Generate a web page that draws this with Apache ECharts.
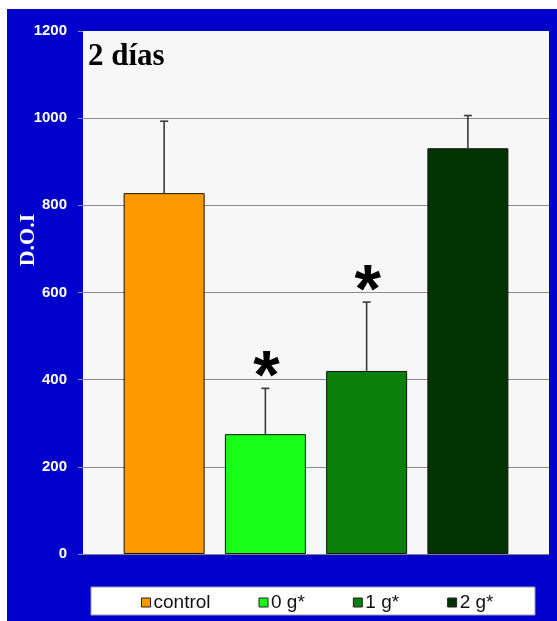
<!DOCTYPE html>
<html>
<head>
<meta charset="utf-8">
<script src="https://cdn.jsdelivr.net/npm/echarts@6/dist/echarts.min.js"></script>
<style>
  html, body { margin: 0; padding: 0; background: #ffffff; }
  #frame { position: absolute; left: 7px; top: 9px; width: 550px; height: 612px; background: #0000cc; }
  #chart { position: absolute; left: 0; top: 0; width: 557px; height: 621px; }
</style>
</head>
<body>
<div id="frame"></div>
<div id="chart"></div>
<script>
// Treatment groups, mean D.O.I and standard deviation
const categories = ['control', '0 g*', '1 g*', '2 g*'];
const means = [828, 275, 420, 931];
const errors = [165, 105, 158, 75];
const significant = [false, true, true, false];
const colors = ['#ff9900', '#16ff16', '#0a800a', '#003300'];
const yTicks = [0, 200, 400, 600, 800, 1000, 1200];

const BAR_WIDTH = 81;
const BAR_GAP = 0.25;

const chart = echarts.init(document.getElementById('chart'), null, { renderer: 'canvas' });

const barSeries = categories.map((name, i) => ({
  name: name,
  type: 'bar',
  data: [means[i]],
  barWidth: BAR_WIDTH,
  barGap: (BAR_GAP * 100) + '%',
  itemStyle: { color: colors[i], borderColor: '#111', borderWidth: 1 },
  z: 3
}));

// error bars with caps, plus the significance asterisk above flagged groups
const errorSeries = {
  type: 'custom',
  name: 'error',
  z: 4,
  data: means.map((m, i) => [0, m, errors[i], i]),
  renderItem: function (params, api) {
    const mean = api.value(1);
    const sd = api.value(2);
    const idx = api.value(3);
    const n = categories.length;
    const step = BAR_WIDTH * (1 + BAR_GAP);
    const base = api.coord([0, mean]);
    const top = api.coord([0, mean + sd]);
    const x = base[0] + (idx - (n - 1) / 2) * step;
    const cap = 4;
    const style = { stroke: '#3a3a3a', lineWidth: 1.6 };
    const children = [
      { type: 'line', shape: { x1: x, y1: base[1], x2: x, y2: top[1] }, style: style },
      { type: 'line', shape: { x1: x - cap, y1: top[1], x2: x + cap, y2: top[1] }, style: style }
    ];
    if (significant[idx]) {
      children.push({
        type: 'text',
        style: {
          text: '*', x: x + 1, y: top[1] + 25,
          align: 'center', verticalAlign: 'bottom',
          fill: '#000', font: 'bold 68px "Liberation Sans", Arial, sans-serif'
        }
      });
    }
    return { type: 'group', children: children };
  }
};

chart.setOption({
  backgroundColor: 'transparent',
  animation: false,
  grid: {
    left: 83, right: 8, top: 31, bottom: 67,
    show: true, backgroundColor: '#f7f7f7', borderWidth: 0
  },
  graphic: [
    {
      type: 'rect', z: 0,
      shape: { x: 91, y: 587, width: 444, height: 28 },
      style: { fill: '#ffffff', stroke: '#9a9ab0', lineWidth: 1 }
    },
    {
      type: 'text', z: 5,
      x: 28, y: 240, rotation: Math.PI / 2,
      style: {
        text: 'D.O.I', align: 'center', verticalAlign: 'middle',
        fill: '#ffffff', font: 'bold 22px "Liberation Serif", "Times New Roman", serif'
      }
    },
    {
      type: 'text', z: 5,
      x: 88, y: 57,
      style: {
        text: '2 días', align: 'left', verticalAlign: 'middle',
        fill: '#000000', font: 'bold 31px "Liberation Serif", "Times New Roman", serif'
      }
    }
  ],
  legend: {
    data: categories,
    left: 136, top: 588,
    itemWidth: 9, itemHeight: 9, itemGap: 48,
    icon: 'rect',
    itemStyle: { borderColor: '#222', borderWidth: 1 },
    textStyle: { fontFamily: '"Liberation Sans", Arial, sans-serif', fontSize: 19, color: '#111', padding: [0, 0, 0, -2] }
  },
  xAxis: {
    type: 'category',
    data: [''],
    axisLine: { show: true, lineStyle: { color: '#808080', width: 1 } },
    axisTick: { show: false },
    axisLabel: { show: false }
  },
  yAxis: {
    type: 'value',
    min: yTicks[0], max: yTicks[yTicks.length - 1], interval: yTicks[1] - yTicks[0],
    axisLine: { show: false },
    axisTick: { show: true, length: 5, lineStyle: { color: '#8a8a8a' } },
    axisLabel: {
      margin: 16, color: '#ffffff', fontWeight: 'bold', fontSize: 15,
      fontFamily: '"Liberation Sans", Arial, sans-serif',
      formatter: function (v) { return String(v); }
    },
    splitLine: { show: true, showMaxLine: false, lineStyle: { color: '#8c8c8c', width: 1 } }
  },
  series: barSeries.concat([errorSeries])
});
</script>
</body>
</html>
